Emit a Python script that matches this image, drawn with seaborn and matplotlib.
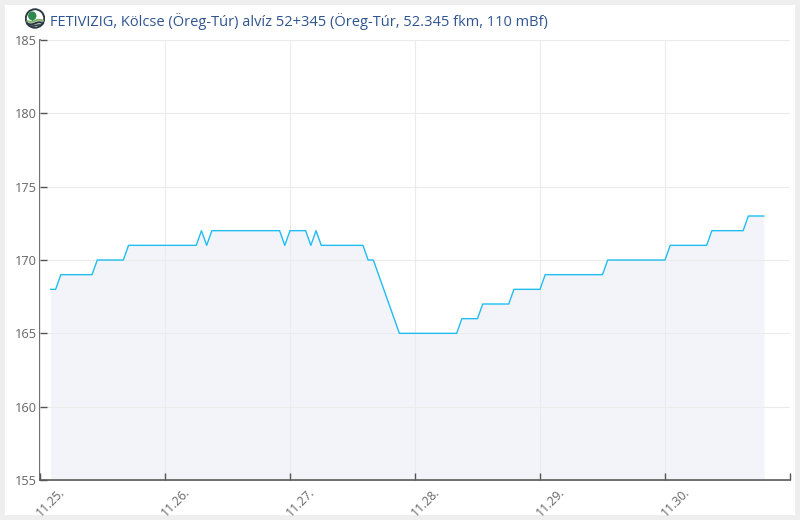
import matplotlib
matplotlib.use("Agg")
import matplotlib.pyplot as plt
import matplotlib.dates as mdates
from matplotlib.patches import Rectangle, Circle, Ellipse
from matplotlib.transforms import ScaledTranslation
import numpy as np
import pandas as pd
import seaborn as sns

title = "FETIVIZIG, Kölcse (Öreg-Túr) alvíz 52+345 (Öreg-Túr, 52.345 fkm, 110 mBf)"
first_time = "2024-11-25 02:00"
levels = [168, 168,
          169, 169, 169, 169, 169, 169, 169,
          170, 170, 170, 170, 170, 170,
          171, 171, 171, 171, 171, 171, 171, 171, 171, 171, 171, 171, 171, 171,
          172, 171,
          172, 172, 172, 172, 172, 172, 172, 172, 172, 172, 172, 172, 172, 172,
          171,
          172, 172, 172, 172,
          171, 172,
          171, 171, 171, 171, 171, 171, 171, 171, 171,
          170, 170,
          169, 168, 167, 166,
          165, 165, 165, 165, 165, 165, 165, 165, 165, 165, 165, 165,
          166, 166, 166, 166,
          167, 167, 167, 167, 167, 167,
          168, 168, 168, 168, 168, 168,
          169, 169, 169, 169, 169, 169, 169, 169, 169, 169, 169, 169,
          170, 170, 170, 170, 170, 170, 170, 170, 170, 170, 170, 170,
          171, 171, 171, 171, 171, 171, 171, 171,
          172, 172, 172, 172, 172, 172, 172,
          173, 173, 173, 173]
day_ticks = ["2024-11-25", "2024-11-26", "2024-11-27", "2024-11-28", "2024-11-29", "2024-11-30", "2024-12-01"]
day_labels = ["11.25.", "11.26.", "11.27.", "11.28.", "11.29.", "11.30.", ""]
y_ticks = [155, 160, 165, 170, 175, 180, 185]

df = pd.DataFrame({"time": pd.date_range(first_time, periods=len(levels), freq="h"), "level": levels})

sns.set_theme(style="ticks")
plt.rcParams["font.family"] = ["Open Sans", "DejaVu Sans"]

fig = plt.figure(figsize=(8, 5.2), dpi=100, facecolor="#eeeeee")
W, H = 800, 520
fig.add_artist(Rectangle((5 / W, 1 - 515 / H), 790 / W, 510 / H, transform=fig.transFigure,
                         facecolor="white", edgecolor="none", zorder=-5))
ax = fig.add_axes([40 / W, 1 - 480 / H, 750 / W, 440 / H])
ax.patch.set_alpha(0)

ax.fill_between(df["time"], df["level"], 155, color="#f3f4f9", linewidth=0, zorder=1)
sns.lineplot(data=df, x="time", y="level", ax=ax, color="#1fbdf0", linewidth=1, zorder=3)

ax.set_xlim(pd.Timestamp(day_ticks[0]), pd.Timestamp(day_ticks[-1]))
ax.set_ylim(155, 185)
ax.set_xticks(mdates.date2num(pd.to_datetime(day_ticks)))
ax.set_xticklabels(day_labels, rotation=45, ha="right", va="center", rotation_mode="anchor",
                   color="#666666", fontsize=8.8)
ax.set_yticks(y_ticks)
ax.set_yticklabels([str(v) for v in y_ticks], color="#666666", fontsize=9.2)
ax.set_xlabel("")
ax.set_ylabel("")

ax.set_axisbelow(False)
ax.grid(True, color="#ebebeb", linewidth=0.8, zorder=2)
ax.tick_params(axis="y", direction="in", length=5, width=1, color="#555555", pad=2.5)
ax.tick_params(axis="x", direction="in", length=5, width=1, color="#555555", pad=0)
# labels in the reference sit up and to the right of their tick
shift = ScaledTranslation(0.225, -0.1, fig.dpi_scale_trans)
for label in ax.get_xticklabels():
    label.set_transform(label.get_transform() + shift)
for side in ["top", "right"]:
    ax.spines[side].set_visible(False)
for side in ["left", "bottom"]:
    ax.spines[side].set_color("#555555")
    ax.spines[side].set_linewidth(1.2)

fig.text(50 / W, 1 - 21 / H, title, color="#2f5590", fontsize=10.55, va="center", ha="left")

# small round logo left of the title
logo = fig.add_axes([24.5 / W, 1 - 29 / H, 21 / W, 21 / H])
logo.set_xlim(-1, 1)
logo.set_ylim(-1, 1)
logo.axis("off")
logo.add_patch(Circle((0, 0), 0.88, facecolor="white", edgecolor="#2b3a42", linewidth=1.4))
logo.add_patch(Rectangle((-0.33, -0.25), 0.14, 0.4, facecolor="#1d6b3a", edgecolor="none"))
logo.add_patch(Ellipse((-0.26, 0.25), 0.8, 0.85, facecolor="#2d8a4e", edgecolor="none"))
wave_x = np.linspace(-0.75, 0.78, 20)
logo.plot(wave_x, -0.22 + 0.1 * np.sin(4 * wave_x), color="#7fb069", linewidth=1.4)
logo.plot(wave_x, -0.46 + 0.1 * np.sin(4 * wave_x), color="#2b3a42", linewidth=1.5)
logo.plot(wave_x[3:17], -0.68 + 0.06 * np.sin(4 * wave_x[3:17]), color="#2b3a42", linewidth=1.2)

fig.savefig("out.png", dpi=100, facecolor=fig.get_facecolor())
